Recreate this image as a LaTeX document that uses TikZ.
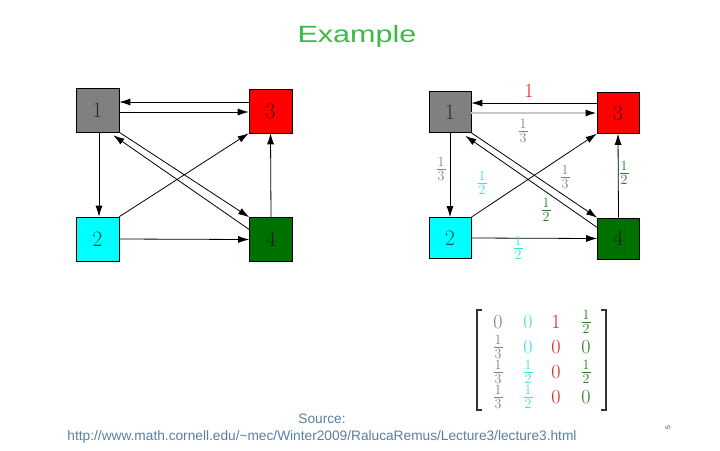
\documentclass[tikz,border=0pt]{standalone}
\usepackage{fontspec}
\usetikzlibrary{arrows.meta,calc}
\newfontfamily\arialf{Liberation Sans}
\definecolor{cgray}{HTML}{808080}
\definecolor{cred}{HTML}{FF0000}
\definecolor{ccyan}{HTML}{00FFFF}
\definecolor{cgreen}{HTML}{007000}
\definecolor{tgray}{HTML}{808080}
\definecolor{tcyan}{HTML}{3FE0E0}
\definecolor{tred}{HTML}{E02020}
\definecolor{tgreen}{HTML}{2A7A2A}
\definecolor{ctitle}{HTML}{3DB94A}
\definecolor{csrc}{HTML}{5A7FA5}
\definecolor{clight}{HTML}{C8C8C8}
\newcommand\fr[2]{{\fontsize{14}{14}\selectfont\vbox{\hbox to 9pt{\hss#1\hss}\kern2pt\hrule height 0.6pt\kern2pt\hbox to 9pt{\hss#2\hss}}}}
\begin{document}
\begin{tikzpicture}[x=1pt,y=-1pt,
  box/.style={draw=black, line width=0.6pt, minimum width=43pt, minimum height=44pt,
    inner sep=0pt, font=\fontsize{22}{24}\selectfont, text=black, text opacity=0.65},
  rbox/.style={box, minimum width=42pt, minimum height=41pt},
  edge/.style={-{Latex[length=11pt,width=7pt]}, line width=0.8pt, draw=black},
  lbl/.style={font=\fontsize{20}{24}\selectfont, inner sep=0pt},
  ent/.style={font=\fontsize{20}{24}\selectfont, inner sep=0pt}]
\useasboundingbox[fill=white] (0,0) rectangle (720,450);

% title
\node[font=\arialf\fontsize{23.5}{28}\selectfont, text=ctitle] (title) at (357,36) {\scalebox{1.3}[1]{Example}};

% left graph
\node[box, fill=cgray]  (L1) at (97.5,110) {1};
\node[box, fill=cred]   (L3) at (270.5,111) {3};
\node[box, fill=ccyan]  (L2) at (97.5,239) {2};
\node[box, fill=cgreen] (L4) at (271,239.5) {4};
\draw[edge] ($(L3.west)+(0,-9)$) -- ($(L1.east)+(0,-8)$);
\draw[edge] ($(L1.east)+(0,2)$) -- ($(L3.west)+(0,1)$);
\draw[edge] ($(L1.south)+(1.5,0)$) -- ($(L2.north)+(1.5,0)$);
\draw[edge] (L2.east) -- (L4.west);
\draw[edge] (L4.north) -- (L3.south);
\draw[edge] (L2.north east) -- (L3.south west);
\draw[edge] (L1.south east) -- (L4.north west);
\draw[edge] ($(L4.west)+(0,-10)$) -- ($(L1.south east)+(-6,3)$);

% right graph
\node[rbox, fill=cgray]  (R1) at (450,112) {1};
\node[rbox, fill=cred]   (R3) at (618,113) {3};
\node[rbox, fill=ccyan]  (R2) at (450,238) {2};
\node[rbox, fill=cgreen] (R4) at (618.5,238.5) {4};
\draw[edge] ($(R3.west)+(0,-10)$) -- ($(R1.east)+(0,-9)$);
\draw[-{Latex[length=11pt,width=7pt,black]}, line width=1.8pt, draw=clight] ($(R1.east)+(0,1)$) -- (R3.west);
\draw[edge] (R1.south) -- (R2.north);
\draw[edge] (R2.east) -- (R4.west);
\draw[edge] (R4.north) -- (R3.south);
\draw[edge] (R2.north east) -- (R3.south west);
\draw[edge] (R1.south east) -- (R4.north west);
\draw[edge] ($(R4.west)+(0,-11)$) -- ($(R1.south east)+(-6,3)$);

% weights
\node[lbl, text=tred]   (w31) at (529,91)  {1};
\node[lbl, text=tgray]  (w13) at (523,131) {\fr{1}{3}};
\node[lbl, text=tgray]  (w12) at (441,169) {\fr{1}{3}};
\node[lbl, text=tcyan]  (w23) at (482,183) {\fr{1}{2}};
\node[lbl, text=tgray]  (w14) at (565,177) {\fr{1}{3}};
\node[lbl, text=tgreen] (w41) at (546,210) {\fr{1}{2}};
\node[lbl, text=tcyan]  (w24) at (518,248) {\fr{1}{2}};
\node[lbl, text=tgreen] (w43) at (624,173) {\fr{1}{2}};

% matrix
\draw[line width=1.3pt, black!80] (482,310) -- (477,310) -- (477,410) -- (482,410);
\draw[line width=1.3pt, black!80] (601,310) -- (606,310) -- (606,410) -- (601,410);
\node[ent, text=tgray]  (m11) at (498,322) {0};
\node[ent, text=tgray]  (m21) at (498,347) {\fr{1}{3}};
\node[ent, text=tgray]  (m31) at (498,372) {\fr{1}{3}};
\node[ent, text=tgray]  (m41) at (498,397) {\fr{1}{3}};
\node[ent, text=tcyan]  (m12) at (528,322) {0};
\node[ent, text=tcyan]  (m22) at (528,347) {0};
\node[ent, text=tcyan]  (m32) at (528,372) {\fr{1}{2}};
\node[ent, text=tcyan]  (m42) at (528,397) {\fr{1}{2}};
\node[ent, text=tred]   (m13) at (556,322) {1};
\node[ent, text=tred]   (m23) at (556,347) {0};
\node[ent, text=tred]   (m33) at (556,372) {0};
\node[ent, text=tred]   (m43) at (556,397) {0};
\node[ent, text=tgreen] (m14) at (586,322) {\fr{1}{2}};
\node[ent, text=tgreen] (m24) at (586,347) {0};
\node[ent, text=tgreen] (m34) at (586,372) {\fr{1}{2}};
\node[ent, text=tgreen] (m44) at (586,397) {0};

% source
\node[font=\arialf\fontsize{13.7}{16}\selectfont, text=csrc] (src) at (322,419) {Source:};
\node[font=\arialf\fontsize{13.7}{16}\selectfont, text=csrc] (url) at (322,437) {http://www.math.cornell.edu/\textasciitilde mec/Winter2009/RalucaRemus/Lecture3/lecture3.html};
\node[font=\arialf\fontsize{7}{8}\selectfont, text=csrc!60!black, rotate=90] (num) at (668,428) {5};
\end{tikzpicture}
\end{document}
